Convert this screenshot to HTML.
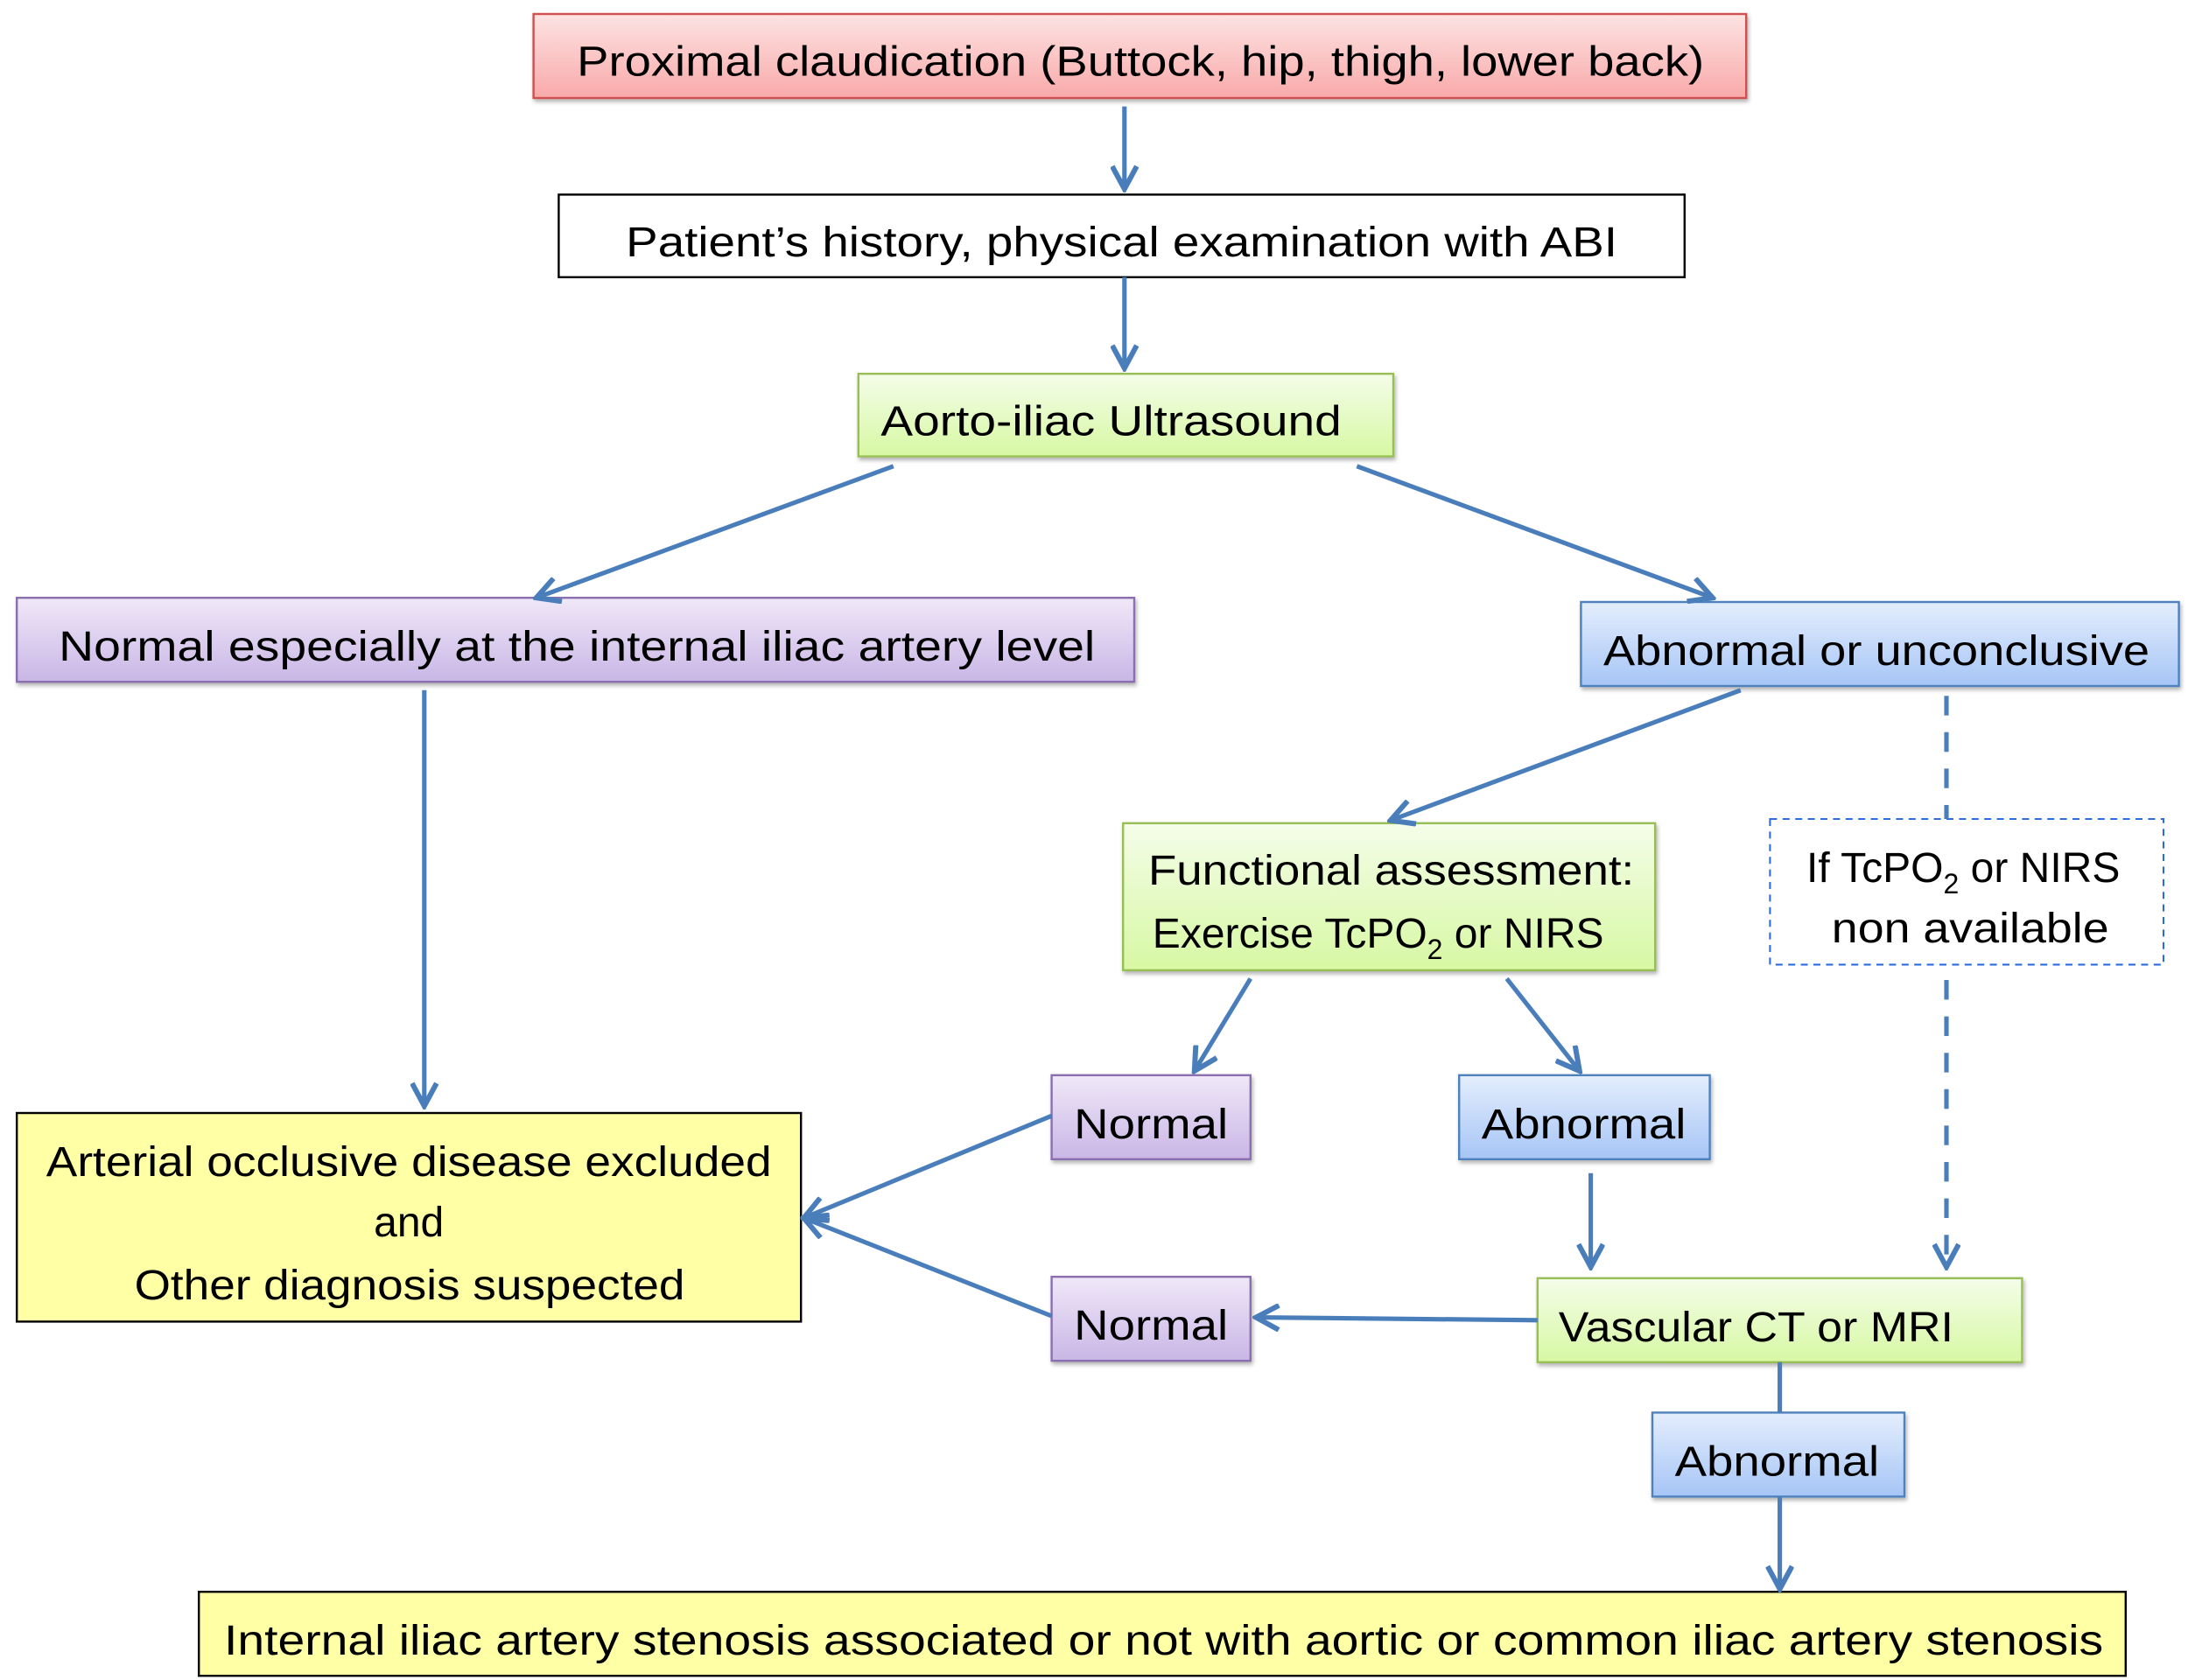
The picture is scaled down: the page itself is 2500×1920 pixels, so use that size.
<!DOCTYPE html>
<html><head><meta charset="utf-8"><style>html,body{margin:0;padding:0;background:#fff}svg{display:block}</style></head>
<body>
<svg width="2500" height="1920" viewBox="0 0 1562.5 1200" xmlns="http://www.w3.org/2000/svg" font-family="'Liberation Sans', sans-serif" font-size="30">
<defs>
<linearGradient id="gr" x1="0" y1="0" x2="0" y2="1"><stop offset="0" stop-color="#fde3e3"/><stop offset="1" stop-color="#f9a9a9"/></linearGradient>
<linearGradient id="gg" x1="0" y1="0" x2="0" y2="1"><stop offset="0" stop-color="#f4fde9"/><stop offset="1" stop-color="#d7f8a3"/></linearGradient>
<linearGradient id="gp" x1="0" y1="0" x2="0" y2="1"><stop offset="0" stop-color="#f0e8f8"/><stop offset="1" stop-color="#c9b6e6"/></linearGradient>
<linearGradient id="gb" x1="0" y1="0" x2="0" y2="1"><stop offset="0" stop-color="#e4eefd"/><stop offset="1" stop-color="#a6c5f6"/></linearGradient>
<marker id="ah" markerUnits="userSpaceOnUse" markerWidth="20" markerHeight="20" refX="14" refY="8" orient="auto" viewBox="0 0 16 16">
<path d="M1,1 L14,8 L1,15" fill="none" stroke="#4a7ebb" stroke-width="3"/></marker>
<filter id="sh" x="-5%" y="-10%" width="110%" height="130%"><feDropShadow dx="1" dy="2" stdDeviation="1.5" flood-color="#000" flood-opacity="0.3"/></filter>
</defs>
<g filter="url(#sh)">
<rect x="381" y="10" width="866" height="60" fill="url(#gr)" stroke="#d05050" stroke-width="1.5"/>
<rect x="613" y="267" width="382" height="59" fill="url(#gg)" stroke="#98bf55" stroke-width="1.5"/>
<rect x="12" y="427" width="798" height="60" fill="url(#gp)" stroke="#8a6fb0" stroke-width="1.5"/>
<rect x="1129" y="430" width="427" height="60" fill="url(#gb)" stroke="#4f81bd" stroke-width="1.5"/>
<rect x="802" y="588" width="380" height="105" fill="url(#gg)" stroke="#98bf55" stroke-width="1.5"/>
<rect x="751" y="768" width="142" height="60" fill="url(#gp)" stroke="#8a6fb0" stroke-width="1.5"/>
<rect x="1042" y="768" width="179" height="60" fill="url(#gb)" stroke="#4f81bd" stroke-width="1.5"/>
<rect x="1098" y="913" width="346" height="60" fill="url(#gg)" stroke="#98bf55" stroke-width="1.5"/>
<rect x="751" y="912" width="142" height="60" fill="url(#gp)" stroke="#8a6fb0" stroke-width="1.5"/>
<rect x="1180" y="1009" width="180" height="60" fill="url(#gb)" stroke="#4f81bd" stroke-width="1.5"/>
</g>
<rect x="399" y="139" width="804" height="59" fill="#fff" stroke="#000" stroke-width="1.5"/>
<rect x="12" y="795" width="560" height="149" fill="#ffffa6" stroke="#000" stroke-width="1.5"/>
<rect x="142" y="1137" width="1376" height="60" fill="#ffffa6" stroke="#000" stroke-width="1.5"/>
<rect x="1264" y="585" width="281" height="104" fill="#fff" stroke="#2d6be0" stroke-width="1.3" stroke-dasharray="5,4"/>

<g stroke="#4a7ebb" stroke-width="3.2" fill="none" marker-end="url(#ah)">
<line x1="803" y1="76" x2="803" y2="135"/>
<line x1="803" y1="198" x2="803" y2="263"/>
<line x1="638" y1="333" x2="383" y2="427"/>
<line x1="969" y1="333" x2="1223" y2="427"/>
<line x1="303" y1="493" x2="303" y2="790"/>
<line x1="1243" y1="493" x2="993" y2="586"/>
<line x1="893" y1="699" x2="853" y2="765"/>
<line x1="1076" y1="699" x2="1128" y2="765"/>
<line x1="1390" y1="700" x2="1390" y2="905" stroke-dasharray="14,12"/>
<line x1="751" y1="797" x2="574" y2="870"/>
<line x1="751" y1="940" x2="574" y2="870"/>
<line x1="1136" y1="838" x2="1136" y2="905"/>
<line x1="1098" y1="943" x2="897" y2="941"/>
<line x1="1271" y1="1069" x2="1271" y2="1135"/>
</g>
<g stroke="#4a7ebb" stroke-width="3.2" fill="none">
<line x1="1390" y1="497" x2="1390" y2="585" stroke-dasharray="14,12"/>
<line x1="1271" y1="973" x2="1271" y2="1009"/>
</g>

<g fill="#000" lengthAdjust="spacingAndGlyphs">
<text x="412" y="54" textLength="805" lengthAdjust="spacingAndGlyphs">Proximal claudication (Buttock, hip, thigh, lower back)</text>
<text x="447" y="183" textLength="708" lengthAdjust="spacingAndGlyphs">Patient’s history, physical examination with ABI</text>
<text x="629" y="311" textLength="329" lengthAdjust="spacingAndGlyphs">Aorto-iliac Ultrasound</text>
<text x="42" y="472" textLength="740" lengthAdjust="spacingAndGlyphs">Normal especially at the internal iliac artery  level</text>
<text x="1145" y="475" textLength="390" lengthAdjust="spacingAndGlyphs">Abnormal or unconclusive</text>
<text x="820" y="632" textLength="347" lengthAdjust="spacingAndGlyphs">Functional assessment:</text>
<text x="823" y="677">Exercise TcPO<tspan font-size="20" dy="8">2</tspan><tspan dy="-8"> or NIRS</tspan></text>
<text x="1290" y="630">If TcPO<tspan font-size="20" dy="8">2</tspan><tspan dy="-8"> or NIRS</tspan></text>
<text x="1308" y="673" textLength="198" lengthAdjust="spacingAndGlyphs">non available</text>
<text x="767" y="813" textLength="110" lengthAdjust="spacingAndGlyphs">Normal</text>
<text x="1058" y="813" textLength="146" lengthAdjust="spacingAndGlyphs">Abnormal</text>
<text x="767" y="957" textLength="110" lengthAdjust="spacingAndGlyphs">Normal</text>
<text x="1113" y="958" textLength="282" lengthAdjust="spacingAndGlyphs">Vascular CT or MRI</text>
<text x="1196" y="1054" textLength="146" lengthAdjust="spacingAndGlyphs">Abnormal</text>
<text x="33" y="840" textLength="518" lengthAdjust="spacingAndGlyphs">Arterial occlusive disease excluded</text>
<text x="292" y="883" text-anchor="middle">and</text>
<text x="96" y="928" textLength="393" lengthAdjust="spacingAndGlyphs">Other diagnosis suspected</text>
<text x="160" y="1182" textLength="1342" lengthAdjust="spacingAndGlyphs">Internal iliac artery stenosis associated or not  with  aortic or common iliac artery stenosis</text>
</g>
</svg>
</body></html>
